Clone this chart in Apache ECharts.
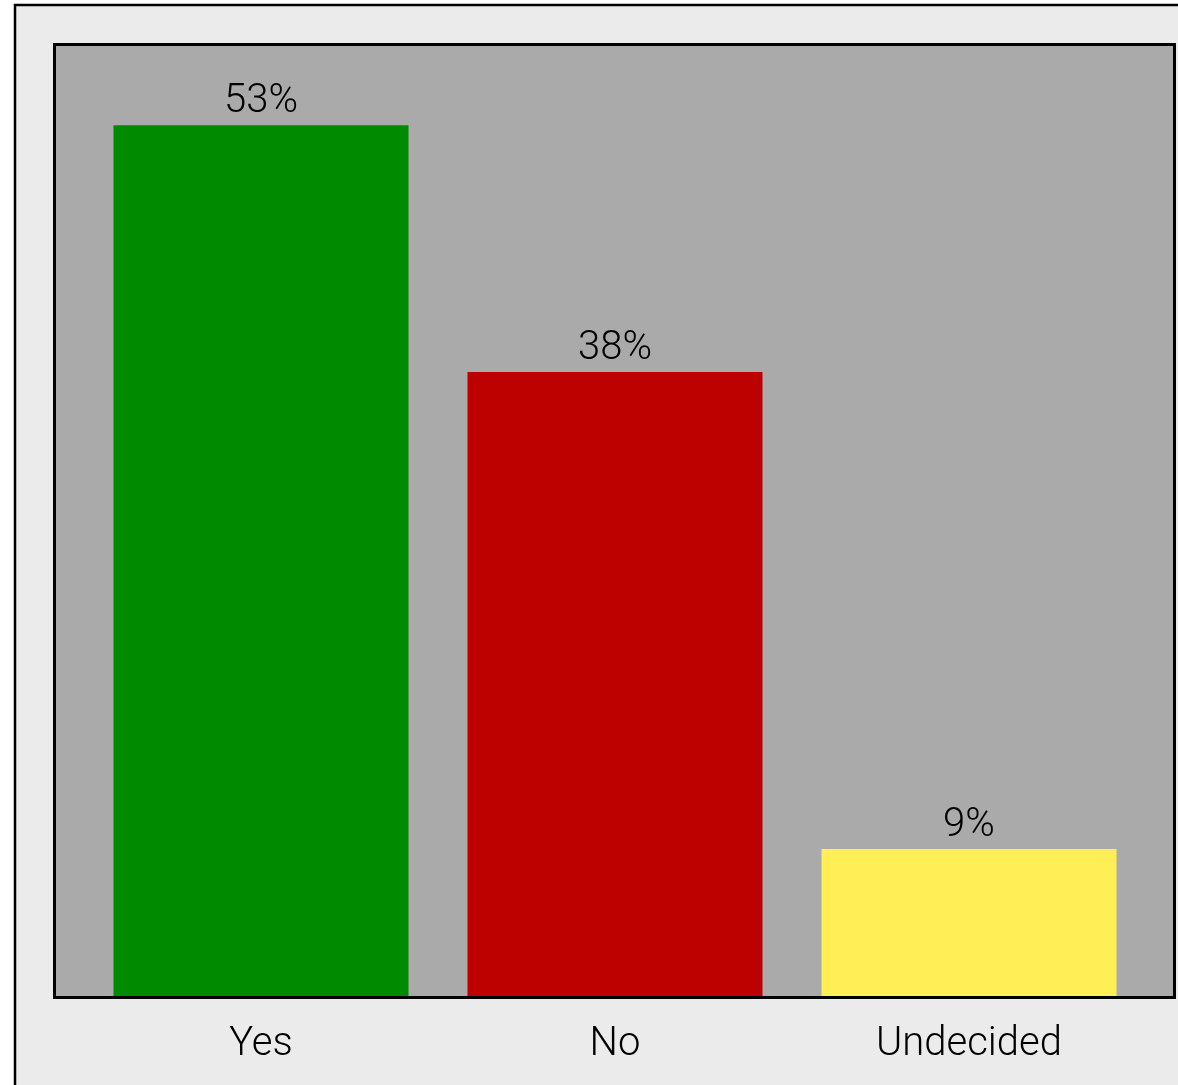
<!DOCTYPE html>
<html>
<head>
<meta charset="utf-8">
<script src="https://cdn.jsdelivr.net/npm/echarts@6/dist/echarts.min.js"></script>
<style>
  html, body { margin: 0; padding: 0; background: #ffffff; }
  #chart { width: 1178px; height: 1085px; }
</style>
</head>
<body>
<div id="chart"></div>
<script>
// Poll results
const categories = ['Yes', 'No', 'Undecided'];
const shares = [53, 38, 9];
const barColors = ['#008a00', '#bd0000', '#ffee55'];

const chart = echarts.init(document.getElementById('chart'), null, { renderer: 'canvas' });

const FONT = 'Roboto, "Liberation Sans", Arial, sans-serif';

chart.setOption({
  animation: false,
  backgroundColor: '#ffffff',
  graphic: [
    // outer panel
    { type: 'rect', z: -10, shape: { x: 15, y: 5, width: 1200, height: 1120 },
      style: { fill: '#ebebeb', stroke: '#000000', lineWidth: 2.5 } },
    // plot panel background
    { type: 'rect', z: -5, shape: { x: 54, y: 44, width: 1120, height: 953 },
      style: { fill: '#aaaaaa' } },
    // plot panel frame, drawn above the bars
    { type: 'rect', z: 100, shape: { x: 54.5, y: 44.5, width: 1120, height: 953 },
      style: { fill: null, stroke: '#000000', lineWidth: 3 } }
  ],
  grid: { left: 84, right: 32, top: 43, bottom: 88 },
  xAxis: {
    type: 'category',
    data: categories,
    axisLine: { show: false },
    axisTick: { show: false },
    axisLabel: { color: '#000000', fontSize: 40, fontWeight: 300, fontFamily: FONT, margin: 28 }
  },
  yAxis: {
    type: 'value',
    min: 0,
    max: 58,
    show: false,
    splitLine: { show: false }
  },
  series: [{
    type: 'bar',
    data: shares.map((v, i) => ({ value: v, itemStyle: { color: barColors[i] } })),
    barWidth: 295,
    label: {
      show: true,
      position: 'top',
      distance: 3,
      color: '#000000',
      fontSize: 40,
      fontWeight: 300,
      fontFamily: FONT,
      formatter: p => p.value + '%'
    }
  }]
});
</script>
</body>
</html>
